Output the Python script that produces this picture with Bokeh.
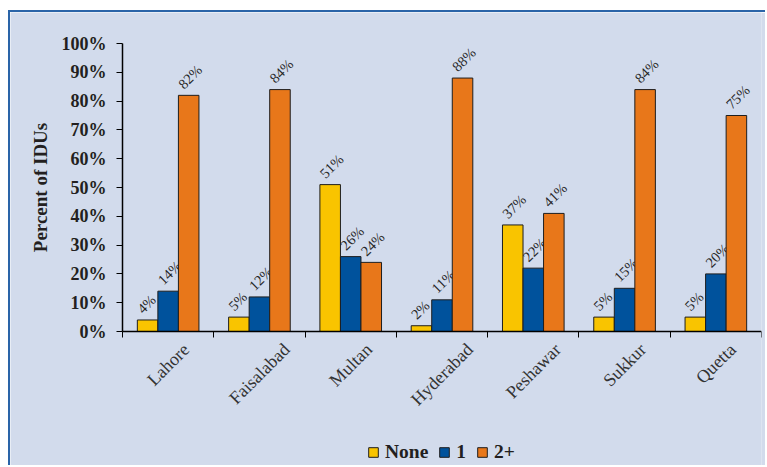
import math
from bokeh.plotting import figure
from bokeh.models import (ColumnDataSource, FixedTicker, CustomJSTickFormatter,
                          PrintfTickFormatter, Legend, LegendItem, Range1d)
from bokeh.core.properties import value
from bokeh.transform import dodge
from bokeh.embed import file_html
from bokeh.resources import INLINE

# ---- data ----
cities = ["Lahore", "Faisalabad", "Multan", "Hyderabad", "Peshawar", "Sukkur", "Quetta"]
none_pct = [4, 5, 51, 2, 37, 5, 5]
one_pct = [14, 12, 26, 11, 22, 15, 20]
two_plus_pct = [82, 84, 24, 88, 41, 84, 75]
series_labels = ["None", "1", "2+"]
y_tick_values = [0, 10, 20, 30, 40, 50, 60, 70, 80, 90, 100]
y_title = "Percent of IDUs"

# ---- style / layout ----
COLORS = ["#F9C400", "#00529C", "#E8771A"]
BG = "#D2DBEC"
FRAME_BLUE = "#2A64A8"
FONT = "Liberation Serif"
CAT_FONT_PX = 18
# approximate advance widths (em/1000) of the serif face, for label centring
GLYPH_W = {"L": 611, "a": 444, "h": 500, "o": 500, "r": 333, "e": 444, "F": 556,
           "i": 278, "s": 389, "l": 278, "b": 500, "d": 500, "M": 889, "u": 500,
           "t": 278, "n": 500, "H": 722, "y": 500, "P": 556, "w": 722, "S": 556,
           "k": 500, "Q": 722}

W, H = 757, 455
AXIS_LEFT_PX = 112    # where the y axis sits inside the canvas
AXIS_TOP_PX = 31      # where 100 % sits inside the canvas
MB_R = 6
PLOT_PX = 288         # pixel height of the 0..100 % span
n = len(cities)
frame_w = W - MB_R
unit_px = (frame_w - AXIS_LEFT_PX) / n
x_low = -AXIS_LEFT_PX / unit_px
bar_w = 0.225
px_per_pct = PLOT_PX / 100.0
y_high = 100 + AXIS_TOP_PX / px_per_pct
y_low = y_high - H / px_per_pct

centers = [i + 0.5 for i in range(n)]
src = ColumnDataSource(dict(
    x=centers,
    none=none_pct, one=one_pct, two=two_plus_pct,
    none_lbl=[f"{v}%" for v in none_pct],
    one_lbl=[f"{v}%" for v in one_pct],
    two_lbl=[f"{v}%" for v in two_plus_pct],
))

p = figure(width=W, height=H, x_range=Range1d(x_low, n), y_range=Range1d(y_low, y_high),
           output_backend="svg", toolbar_location=None,
           min_border_left=0, min_border_right=MB_R,
           min_border_top=0, min_border_bottom=0)
p.styles = {"position": "relative", "top": "10px", "left": "8px",
            "border-top": f"2px solid {FRAME_BLUE}",
            "border-left": f"2px solid {FRAME_BLUE}"}
p.background_fill_color = BG
p.border_fill_color = BG
p.outline_line_color = None
p.xgrid.visible = False
p.ygrid.visible = False

renderers = []
for key, off, col in zip(["none", "one", "two"], [-bar_w, 0.0, bar_w], COLORS):
    r = p.vbar(x=dodge("x", off), top=key, width=bar_w, source=src,
               fill_color=col, line_color="#1e1e1e", line_width=1)
    renderers.append(r)
    p.text(x=dodge("x", off), y=key, text=key + "_lbl", source=src,
           angle=math.pi / 4, text_align="left", text_baseline="alphabetic",
           x_offset=-8, y_offset=-9, text_font=value(FONT),
           text_font_size="14.5px", text_color="#262626")

# x axis at 0 %, labels centred under each group, ticks at group boundaries
def text_px(s):
    return sum(GLYPH_W.get(ch, 500) for ch in s) / 1000.0 * CAT_FONT_PX

label_ticks = [c + 0.354 * text_px(s) / unit_px for c, s in zip(centers, cities)]
p.xaxis.fixed_location = 0
p.xaxis.bounds = (0, n)
p.xaxis.ticker = FixedTicker(ticks=label_ticks, minor_ticks=list(range(n + 1)))
p.xaxis.formatter = CustomJSTickFormatter(args=dict(names=cities),
                                          code="return names[Math.floor(tick)];")
p.xaxis.major_label_orientation = math.pi / 4
p.xaxis.major_tick_line_color = None
p.xaxis.major_tick_out = 0
p.xaxis.minor_tick_line_color = "black"
p.xaxis.minor_tick_out = 6
p.xaxis.minor_tick_in = 0
p.xaxis.major_label_standoff = 9
p.xaxis.major_label_text_font = FONT
p.xaxis.major_label_text_font_size = f"{CAT_FONT_PX}px"
p.xaxis.major_label_text_color = "#333333"
p.xaxis.axis_line_color = "black"
p.xaxis.axis_line_width = 1.5

# y axis at x = 0 (left edge of the first group)
p.yaxis.fixed_location = 0
p.yaxis.bounds = (0, 100)
p.yaxis.ticker = FixedTicker(ticks=y_tick_values)
p.yaxis.formatter = PrintfTickFormatter(format="%d%%")
p.yaxis.major_label_text_font = FONT
p.yaxis.major_label_text_font_style = "bold"
p.yaxis.major_label_text_font_size = "18px"
p.yaxis.major_label_text_color = "#231f20"
p.yaxis.major_label_standoff = 10
p.yaxis.major_tick_out = 6
p.yaxis.major_tick_in = 0
p.yaxis.major_tick_line_color = "black"
p.yaxis.minor_tick_line_color = None
p.yaxis.axis_line_color = "black"
p.yaxis.axis_line_width = 1.5

# y-axis title, centred on the 0..100 % span
mid_y = (y_tick_values[0] + y_tick_values[-1]) / 2.0
p.text(x=[0], y=[mid_y], text=[y_title], angle=math.pi / 2, x_offset=-82,
       text_align="center", text_baseline="middle", text_font=value(FONT),
       text_font_style="bold", text_font_size="19px", text_color="#231f20")

legend = Legend(items=[LegendItem(label=s, renderers=[r]) for s, r in zip(series_labels, renderers)],
                orientation="horizontal", location=(AXIS_LEFT_PX + 245, 4), padding=0, margin=0,
                spacing=10, label_standoff=6, glyph_width=12, glyph_height=12,
                label_height=20, label_width=8, border_line_color=None,
                background_fill_alpha=0,
                label_text_font=FONT, label_text_font_style="bold",
                label_text_font_size="19.5px", label_text_color="#231f20")
p.add_layout(legend)

open("out.html", "w").write(file_html(p, INLINE))
